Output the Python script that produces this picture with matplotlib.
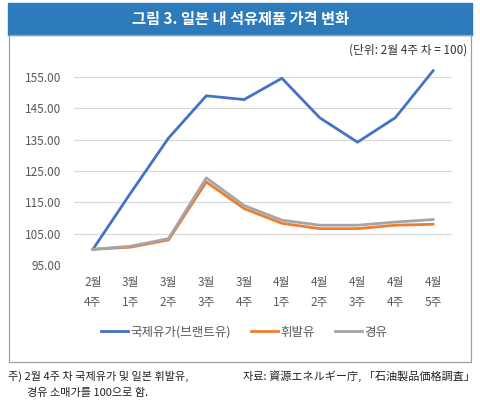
import matplotlib.pyplot as plt
from matplotlib.patches import Rectangle

plt.rcParams['font.family'] = ['Noto Sans CJK KR', 'DejaVu Sans']

weeks = ["2월\n4주", "3월\n1주", "3월\n2주", "3월\n3주", "3월\n4주",
         "4월\n1주", "4월\n2주", "4월\n3주", "4월\n4주", "4월\n5주"]
brent = [100, 118, 135.5, 149, 147.8, 154.6, 142, 134.2, 142, 157]
gasoline = [100, 100.7, 103, 121.5, 113, 108.3, 106.6, 106.6, 107.7, 108]
diesel = [100, 101, 103.4, 122.8, 114, 109.3, 107.7, 107.7, 108.7, 109.5]
yticks = [95, 105, 115, 125, 135, 145, 155]

W, H = 480, 411
fig = plt.figure(figsize=(4.8, 4.11), dpi=100)

# banner + box
fig.patches.append(Rectangle((8 / W, 1 - 35 / H), 464 / W, 32 / H,
                             transform=fig.transFigure, color="#2d7bba", zorder=0))
fig.patches.append(Rectangle((9 / W, 1 - 362 / H), 462 / W, 327 / H,
                             transform=fig.transFigure, fill=False,
                             edgecolor="#a0a0a0", linewidth=0.9, zorder=0))
fig.text(240 / W, 1 - 19 / H, "그림 3. 일본 내 석유제품 가격 변화", color="white",
         fontsize=11, fontweight="bold", ha="center", va="center")
fig.text(467 / W, 1 - 50 / H, "(단위: 2월 4주 차 = 100)", color="#333333",
         fontsize=8.5, ha="right", va="center")

ax = fig.add_axes([74 / W, 1 - 265 / H, 378 / W, 188 / H])
x = range(len(weeks))
ax.plot(x, brent, color="#4472c4", lw=2, label="국제유가(브랜트유)", clip_on=False, zorder=3)
ax.plot(x, gasoline, color="#ed7d31", lw=2, label="휘발유", clip_on=False, zorder=3)
ax.plot(x, diesel, color="#a5a5a5", lw=2, label="경유", clip_on=False, zorder=3)

ax.set_xlim(-0.5, len(weeks) - 0.5)
ax.set_ylim(95, 155)
ax.set_yticks(yticks)
ax.set_yticklabels([f"{v:.2f}" for v in yticks])
ax.set_xticks(list(x))
ax.set_xticklabels(weeks, linespacing=1.7)
ax.grid(axis="y", color="#d9d9d9", lw=0.8)
ax.set_axisbelow(True)
for s in ax.spines.values():
    s.set_visible(False)
ax.tick_params(length=0, labelsize=8.5, labelcolor="#595959")
ax.tick_params(axis="x", pad=8)
ax.tick_params(axis="y", pad=9)

ax.legend(loc="center", bbox_to_anchor=(244 / W, 1 - 332 / H), bbox_transform=fig.transFigure,
          ncol=3, frameon=False, fontsize=9, handlelength=2.2, handletextpad=0.15,
          columnspacing=1.6, labelcolor="#595959")

fig.text(8 / W, 1 - 376 / H, "주) 2월 4주 차 국제유가 및 일본 휘발유,", fontsize=8,
         color="#222222", va="center")
fig.text(27 / W, 1 - 393 / H, "경유 소매가를 100으로 함.", fontsize=8,
         color="#222222", va="center")
fig.text(243 / W, 1 - 376 / H, "자료: 資源エネルギー庁, 「石油製品価格調査」", fontsize=8,
         color="#222222", va="center")

fig.savefig("out.png", dpi=100)
